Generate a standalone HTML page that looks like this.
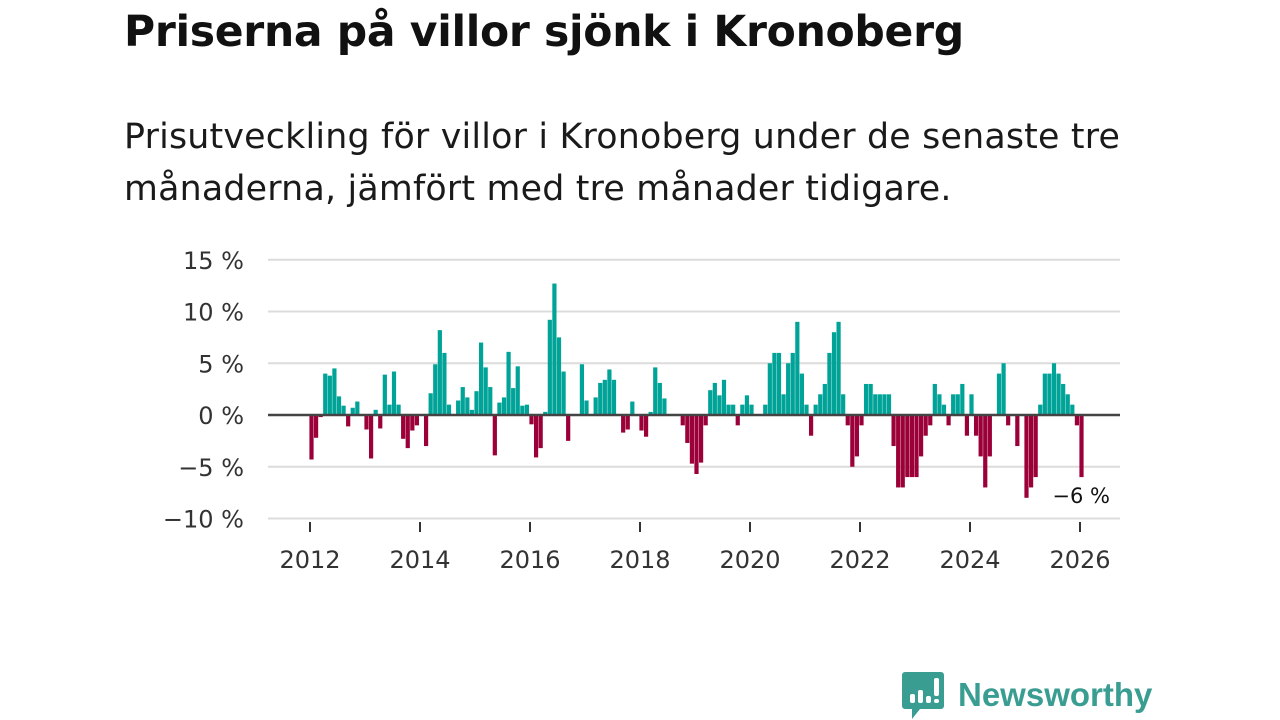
<!DOCTYPE html>
<html><head><meta charset="utf-8">
<style>
body{margin:0;width:1280px;height:720px;background:#fff;overflow:hidden;font-family:"DejaVu Sans","Liberation Sans",sans-serif;position:relative}
#title{position:absolute;left:124px;top:8px;font-size:42.5px;font-weight:bold;color:#111;margin:0;letter-spacing:-0.3px}
#subtitle{position:absolute;left:124px;top:111px;font-size:34.8px;line-height:52px;color:#1a1a1a;width:1100px;letter-spacing:0.2px;white-space:nowrap}
#chart{position:absolute;left:0;top:0}
#logo{position:absolute;left:902px;top:670px;display:flex;align-items:center}
</style></head><body>
<h1 id="title">Priserna på villor sjönk i Kronoberg</h1>
<div id="subtitle">Prisutveckling för villor i Kronoberg under de senaste tre<br>månaderna, jämfört med tre månader tidigare.</div>
<svg id="chart" width="1280" height="720"></svg>
<div id="logo">
<svg width="44" height="50" viewBox="0 0 44 50"><path d="M3 2h36a3 3 0 0 1 3 3v31a3 3 0 0 1-3 3H18l-8 10v-10H3a3 3 0 0 1-3-3V5a3 3 0 0 1 3-3z" fill="#3a9d91"/><rect x="8" y="24" width="5" height="9" rx="2" fill="#fff"/><rect x="16" y="20" width="5" height="13" rx="2" fill="#fff"/><rect x="24" y="26" width="5" height="7" rx="2" fill="#fff"/><rect x="32" y="8" width="5" height="18" rx="2" fill="#fff"/><rect x="32" y="29" width="5" height="4" rx="2" fill="#fff"/></svg>
<span style="font-family:'Liberation Sans',sans-serif;font-size:33px;font-weight:bold;color:#3a9d91;margin-left:12px">Newsworthy</span>
</div>
<script>
const values=[-4.3,-2.2,-0.2,4.0,3.8,4.5,1.8,0.9,-1.1,0.7,1.3,0,-1.4,-4.2,0.5,-1.3,3.9,1.0,4.2,1.0,-2.3,-3.2,-1.5,-1.0,0,-3.0,2.1,4.9,8.2,6.0,1.0,0,1.4,2.7,1.7,0.5,2.3,7.0,4.6,2.7,-3.9,1.2,1.7,6.1,2.6,4.7,0.9,1.0,-0.9,-4.1,-3.2,0.3,9.2,12.7,7.5,4.2,-2.5,0.1,0,4.9,1.4,0,1.7,3.1,3.4,4.4,3.4,0.1,-1.7,-1.4,1.3,0,-1.5,-2.1,0.3,4.6,3.1,1.6,0,0.1,0,-1.0,-2.7,-4.7,-5.7,-4.6,-1.0,2.4,3.1,1.9,3.4,1.0,1.0,-1.0,1.0,1.9,1.0,0,0,1.0,5,6,6,2,5,6,9,4,1,-2,1,2,3,6,8,9,2,-1,-5,-4,-1,3,3,2,2,2,2,-3,-7,-7,-6,-6,-6,-4,-2,-1,3,2,1,-1,2,2,3,-2,2,-2,-4,-7,-4,0,4,5,-1,0,-3,0,-8,-7,-6,1,4,4,5,4,3,2,1,-1,-6];
const startYear=2012;
const yTicks=[15,10,5,0,-5,-10];
const yTickLabels=["15 %","10 %","5 %","0 %","\u22125 %","\u221210 %"];
const xTicks=[2012,2014,2016,2018,2020,2022,2024,2026];
const lastLabel="\u22126 %";
const svg=document.getElementById('chart');
const NS='http://www.w3.org/2000/svg';
const x0=310,pxPerYear=55;
function xScale(yearFrac){return x0+(yearFrac-2012)*pxPerYear;}
function yScale(v){return 415-v*10.35;}
function mk(t,a){const e=document.createElementNS(NS,t);for(const k in a)e.setAttribute(k,a[k]);svg.appendChild(e);return e;}
yTicks.forEach((t,i)=>{
  if(t!==0){const g=mk('line',{x1:268,x2:1120,y1:yScale(t),y2:yScale(t),stroke:'#dcdcdc','stroke-width':2});
  
  }
  const l=mk('text',{x:244,y:yScale(t)+9,'text-anchor':'end','font-size':24,fill:'#333'});
  l.textContent=yTickLabels[i];
  
  
});
values.forEach((v,i)=>{
  const cx=xScale(startYear+i/12)+1.5;
  const y=v>=0?yScale(v):yScale(0);
  const h=Math.abs(yScale(v)-yScale(0));
  const r=mk('rect',{x:cx-2.1,y:y,width:4.2,height:h,fill:v>=0?'#00a398':'#9b0038'});
  
  
});
const zl=mk('line',{x1:268,x2:1120,y1:yScale(0),y2:yScale(0),stroke:'#444','stroke-width':2.5});


xTicks.forEach(t=>{
  const tk=mk('line',{x1:xScale(t),x2:xScale(t),y1:522,y2:532,stroke:'#333','stroke-width':2});
  
  
  const l=mk('text',{x:xScale(t),y:568,'text-anchor':'middle','font-size':24,fill:'#333'});
  l.textContent=t;
  
  
});
const n=values.length-1;
const al=mk('text',{x:xScale(startYear+n/12)+30,y:yScale(values[n])+26,'text-anchor':'end','font-size':21,fill:'#111'});
al.textContent=lastLabel;


</script>
</body></html>
